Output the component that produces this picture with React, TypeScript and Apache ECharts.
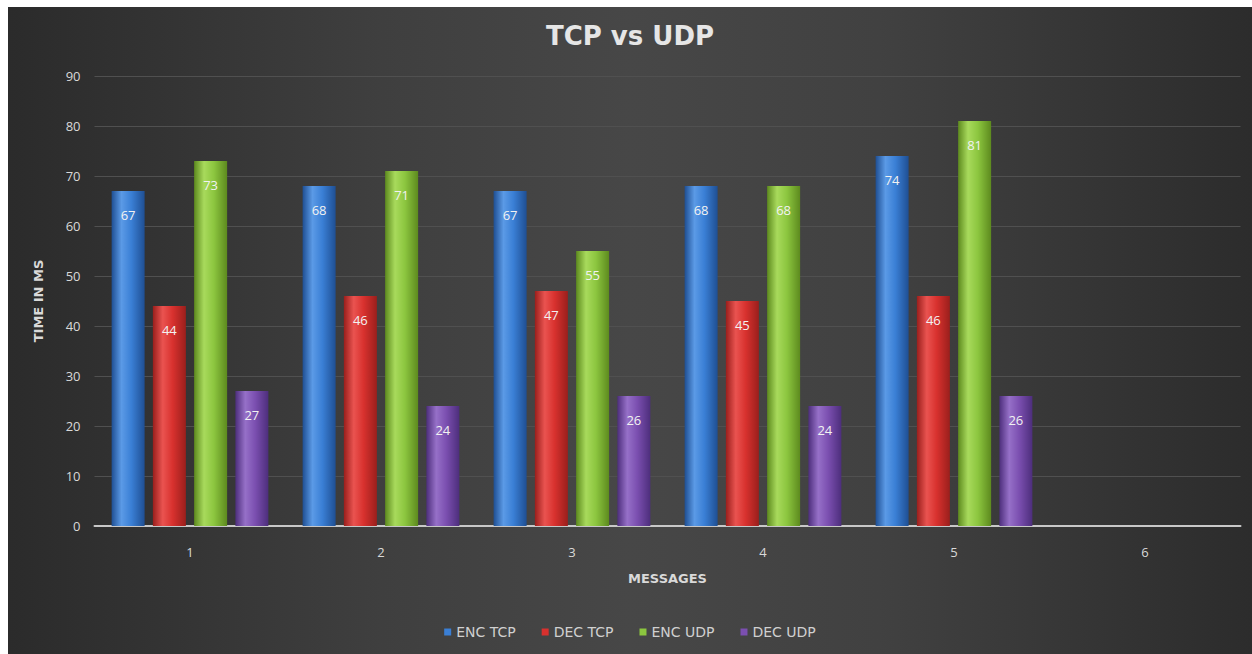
import React, { useEffect, useRef } from "react";
import * as echarts from "echarts";

const categories = ["1", "2", "3", "4", "5", "6"];
const encTcp = [67, 68, 67, 68, 74, null];
const decTcp = [44, 46, 47, 45, 46, null];
const encUdp = [73, 71, 55, 68, 81, null];
const decUdp = [27, 24, 26, 24, 26, null];
const seriesNames = ["ENC TCP", "DEC TCP", "ENC UDP", "DEC UDP"];
const yTicks = { min: 0, max: 90, interval: 10 };

const palette = [
  { dark: "#1f4f93", mid: "#3a7fd5", light: "#5b9ae6", base: "#3a7fd5" },
  { dark: "#9a1f1c", mid: "#d8312e", light: "#ea5350", base: "#d8312e" },
  { dark: "#5d8a1e", mid: "#8cc63f", light: "#a8da5c", base: "#8cc63f" },
  { dark: "#4d2e7c", mid: "#7b4fb0", light: "#9670c8", base: "#7b4fb0" },
];

function grad(p: { dark: string; mid: string; light: string }) {
  return new echarts.graphic.LinearGradient(0, 0, 1, 0, [
    { offset: 0, color: p.dark },
    { offset: 0.3, color: p.light },
    { offset: 0.6, color: p.mid },
    { offset: 1, color: p.dark },
  ]);
}

export default function App() {
  const ref = useRef<HTMLDivElement>(null);
  useEffect(() => {
    if (!ref.current) return;
    const chart = echarts.init(ref.current, null, { renderer: "svg" });
    const data = [encTcp, decTcp, encUdp, decUdp];
    chart.setOption({
      animation: false,
      backgroundColor: "transparent",
      title: {
        text: "TCP vs UDP",
        left: "center",
        top: 11,
        textStyle: {
          color: "#e6e6e6",
          fontSize: 26,
          fontWeight: "bold",
          fontFamily: "DejaVu Sans",
        },
      },
      legend: {
        data: seriesNames.map((n, i) => ({
          name: n,
          itemStyle: { color: palette[i].base },
        })),
        bottom: 10,
        left: "center",
        itemWidth: 7,
        itemHeight: 7,
        itemGap: 26,
        icon: "rect",
        textStyle: { color: "#d0d0d0", fontSize: 14, fontFamily: "DejaVu Sans" },
      },
      grid: { left: 86.5, right: 11.5, top: 69, bottom: 128 },
      xAxis: {
        type: "category",
        data: categories,
        name: "MESSAGES",
        nameLocation: "middle",
        nameGap: 46,
        nameTextStyle: {
          color: "#d9d9d9",
          fontSize: 13,
          fontWeight: "bold",
          fontFamily: "DejaVu Sans",
        },
        axisLine: { lineStyle: { color: "#c8c8c8", width: 2 } },
        axisTick: { show: false },
        axisLabel: {
          color: "#d9d9d9",
          fontSize: 13,
          margin: 19,
          fontFamily: "Open Sans",
        },
      },
      yAxis: {
        type: "value",
        min: yTicks.min,
        max: yTicks.max,
        interval: yTicks.interval,
        name: "TIME IN MS",
        nameLocation: "middle",
        nameGap: 50,
        nameRotate: 90,
        nameTextStyle: {
          color: "#d9d9d9",
          fontSize: 13,
          fontWeight: "bold",
          fontFamily: "DejaVu Sans",
        },
        axisLine: { show: false },
        axisTick: { show: false },
        axisLabel: {
          color: "#d9d9d9",
          fontSize: 13,
          margin: 14,
          fontFamily: "Open Sans",
        },
        splitLine: { lineStyle: { color: "#505050", width: 1 } },
      },
      series: seriesNames.map((name, i) => ({
        name,
        type: "bar",
        data: data[i],
        barWidth: 33,
        barGap: "25%",
        itemStyle: { color: grad(palette[i]) },
        label: {
          show: true,
          position: "insideTop",
          distance: 17,
          color: "#f2f2f2",
          fontSize: 13,
          fontFamily: "Open Sans",
        },
      })),
    });
    return () => chart.dispose();
  }, []);
  return (
    <div
      style={{
        position: "fixed",
        left: 8,
        top: 7,
        width: 1244,
        height: 647,
        background:
          "linear-gradient(to right, #2b2b2b 0%, #3f3f3f 30%, #474747 50%, #414141 70%, #2c2c2c 100%)",
      }}
    >
      <div ref={ref} style={{ width: 1244, height: 647 }} />
    </div>
  );
}
